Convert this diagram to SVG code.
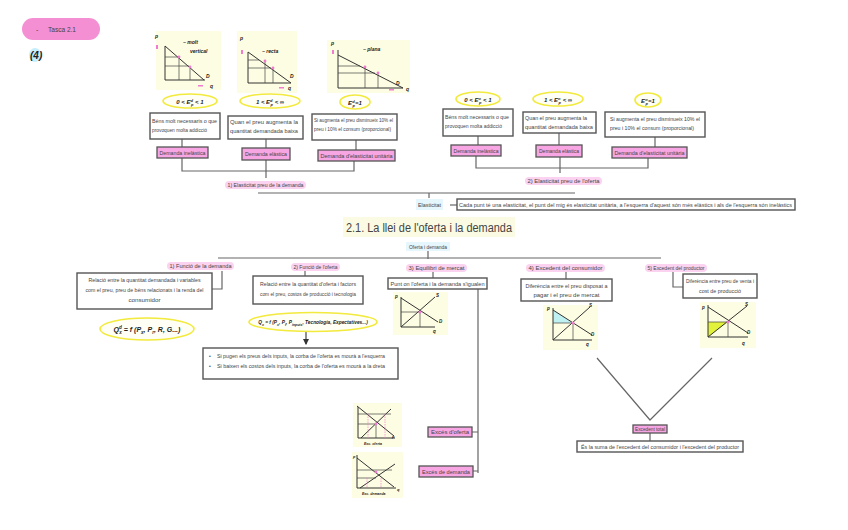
<svg xmlns="http://www.w3.org/2000/svg" width="848" height="530" viewBox="0 0 848 530">
<style>
text{font-family:"Liberation Sans",Arial,sans-serif;fill:#444;}
.t{font-size:5px;}
.box{fill:#fff;stroke:#555;stroke-width:1.4;}
.tag{fill:#f7a6e3;stroke:#555;stroke-width:1.3;}
.lbl{fill:#fbd2f0;}
.ln{fill:none;stroke:#666;stroke-width:1.2;}
.gbg{fill:#fdfde3;}
.ax{fill:none;stroke:#333;stroke-width:1;}
.gl{fill:none;stroke:#444;stroke-width:0.7;}
.el{fill:#fffff5;stroke:#f2ea3c;stroke-width:1.6;}
.hw{font-family:"Liberation Sans",Arial,sans-serif;font-style:italic;font-weight:bold;fill:#222;}
.pk{fill:#f27bd0;}
</style>
<defs>
<marker id="ar" markerWidth="6" markerHeight="6" refX="5" refY="3" orient="auto"><path d="M0,0L6,3L0,6z" fill="#333"/></marker>
</defs>

<g id="tasca">
<rect x="22" y="18" width="78" height="22" rx="11" fill="#f58fd3"/>
<text x="36" y="32" font-size="7">-</text>
<text x="48" y="32" font-size="7.5" textLength="28" lengthAdjust="spacingAndGlyphs">Tasca 2.1</text>
</g>
<g id="num">
<ellipse cx="35" cy="55" rx="6" ry="7" fill="#c7eefc"/>
<text x="30" y="59" font-size="10" class="hw">(4)</text>
</g>

<g id="connectors">
<path class="ln" d="M182,139V147 M266,139V148 M356,140V150"/>
<path class="ln" d="M182,158V171H354V161 M266,160V178"/>
<path class="ln" d="M478,136V145 M559,133V145 M655,137V147"/>
<path class="ln" d="M476,156V168H648V158 M560,157V173"/>
<path class="ln" d="M258,193H575 M429,193V198"/>
<path class="ln" d="M450,205H457"/>
<path class="ln" d="M428,251V259 M218,258H661"/>
<path class="ln" d="M222,271V289H212"/>
<path class="ln" d="M305,271V276"/>
<path class="ln" d="M433,272V278"/>
<path class="ln" d="M566,272V279"/>
<path class="ln" d="M673,272V287H683"/>
<path class="ln" d="M478,289V473 M472,432H478 M473,471H478"/>
<path class="ln" d="M597,358L650,420L712,358"/>
<path class="ln" d="M650,433V441"/>
<path d="M306,327V344" stroke="#333" stroke-width="1.1" marker-end="url(#ar)"/>
</g>

<g id="graph-d1">
<rect class="gbg" x="156" y="31" width="65" height="59"/>
<text class="hw" x="155" y="38" font-size="5">p</text>
<rect class="pk" x="156" y="45" width="2" height="4"/>
<path class="ax" d="M165,46V80H205"/>
<path class="ax" d="M165,46L204,80"/>
<path class="gl" d="M165,57H178M165,66H189M179,57V80M190,66V80"/>
<circle class="pk" cx="179" cy="57" r="1.4"/><circle class="pk" cx="190" cy="67" r="1.4"/>
<text class="hw" x="183" y="44" font-size="5">~ molt</text>
<text class="hw" x="190" y="53" font-size="5">vertical</text>
<text class="hw" x="206" y="78" font-size="5">D</text>
<text class="hw" x="210" y="88" font-size="5">q</text>
<rect class="pk" x="198" y="85" width="5" height="1.5"/>
</g>
<g id="graph-d2">
<rect class="gbg" x="237" y="31" width="60" height="62"/>
<text class="hw" x="240" y="40" font-size="5">p</text>
<rect class="pk" x="241" y="50" width="2" height="4"/>
<path class="ax" d="M248,52V83H291"/>
<path class="ax" d="M248,52L291,83"/>
<path class="gl" d="M248,60H259M248,68H271M265,60V83M273,68V83"/>
<circle class="pk" cx="265" cy="61" r="1.4"/><circle class="pk" cx="273" cy="68" r="1.4"/>
<text class="hw" x="262" y="53" font-size="5">~ recta</text>
<text class="hw" x="290" y="78" font-size="5">D</text>
<text class="hw" x="288" y="90" font-size="5">q</text>
<rect class="pk" x="279" y="87" width="5" height="1.5"/>
</g>
<g id="graph-d3">
<rect class="gbg" x="327" y="40" width="83" height="53"/>
<text class="hw" x="331" y="45" font-size="5">p</text>
<rect class="pk" x="332" y="50" width="2" height="4"/>
<path class="ax" d="M338,50V88H403"/>
<path class="ax" d="M338,55L403,88"/>
<path class="gl" d="M338,66H360M338,73H375M365,66V88M378,73V88"/>
<circle class="pk" cx="365" cy="67" r="1.4"/><circle class="pk" cx="378" cy="73" r="1.4"/>
<text class="hw" x="363" y="51" font-size="5">~ plana</text>
<text class="hw" x="396" y="85" font-size="5">D</text>
<text class="hw" x="406" y="91" font-size="5">q</text>
<rect class="pk" x="389" y="89" width="5" height="1.5"/>
</g>

<g id="e-d1"><ellipse class="el" cx="190" cy="101" rx="27" ry="7"/><text class="hw" x="190" y="103.5" font-size="6" text-anchor="middle">0 &lt; E<tspan font-size="4" dy="-2">d</tspan><tspan font-size="4" dx="-2" dy="4">p</tspan><tspan dy="-2"> &lt; 1</tspan></text></g>
<g id="e-d2"><ellipse class="el" cx="270" cy="101" rx="30" ry="7"/><text class="hw" x="270" y="103.5" font-size="6" text-anchor="middle">1 &lt; E<tspan font-size="4" dy="-2">d</tspan><tspan font-size="4" dx="-2" dy="4">p</tspan><tspan dy="-2"> &lt; ∞</tspan></text></g>
<g id="e-d3"><ellipse class="el" cx="355" cy="102" rx="15" ry="7"/><text class="hw" x="355" y="104.5" font-size="6" text-anchor="middle">E<tspan font-size="4" dy="-2">d</tspan><tspan font-size="4" dx="-2" dy="4">p</tspan><tspan dy="-2">=1</tspan></text></g>

<g id="box-d1"><rect class="box" x="150" y="113" width="70" height="26"/>
<text class="t" x="152" y="123" textLength="65" lengthAdjust="spacingAndGlyphs">Béns molt necessaris o que</text>
<text class="t" x="152" y="132" textLength="55" lengthAdjust="spacingAndGlyphs">provoquen molta addicció</text></g>
<g id="box-d2"><rect class="box" x="228" y="116" width="75" height="23"/>
<text class="t" x="230" y="124" textLength="68" lengthAdjust="spacingAndGlyphs">Quan el preu augmenta la</text>
<text class="t" x="230" y="133" textLength="68" lengthAdjust="spacingAndGlyphs">quantitat demandada baixa</text></g>
<g id="box-d3"><rect class="box" x="312" y="114" width="85" height="26"/>
<text class="t" x="314" y="122" textLength="79" lengthAdjust="spacingAndGlyphs">Si augmenta el preu disminueix 10% el</text>
<text class="t" x="314" y="131" textLength="77" lengthAdjust="spacingAndGlyphs">preu i 10% el consum (proporcional)</text></g>

<g id="tag-d1"><rect class="tag" x="157" y="147" width="51" height="11"/><text class="t" x="182.5" y="154.5" text-anchor="middle" textLength="46" lengthAdjust="spacingAndGlyphs">Demanda inelàstica</text></g>
<g id="tag-d2"><rect class="tag" x="242" y="148" width="48" height="12"/><text class="t" x="266" y="156" text-anchor="middle" textLength="42" lengthAdjust="spacingAndGlyphs">Demanda elàstica</text></g>
<g id="tag-d3"><rect class="tag" x="318" y="150" width="77" height="11"/><text class="t" x="356.5" y="157.5" text-anchor="middle" textLength="72" lengthAdjust="spacingAndGlyphs">Demanda d'elasticitat unitària</text></g>

<g id="lbl-ed"><rect class="lbl" x="225" y="181" width="81" height="8" rx="4"/><text class="t" x="265.5" y="187" text-anchor="middle" textLength="76" lengthAdjust="spacingAndGlyphs" fill="#555">1) Elasticitat preu de la demanda</text></g>

<g id="e-o1"><ellipse class="el" cx="478" cy="99" rx="22" ry="7"/><text class="hw" x="478" y="101.5" font-size="6" text-anchor="middle">0 &lt; E<tspan font-size="4" dy="-2">o</tspan><tspan font-size="4" dx="-2" dy="4">p</tspan><tspan dy="-2"> &lt; 1</tspan></text></g>
<g id="e-o2"><ellipse class="el" cx="558" cy="99" rx="25" ry="7"/><text class="hw" x="558" y="101.5" font-size="6" text-anchor="middle">1 &lt; E<tspan font-size="4" dy="-2">o</tspan><tspan font-size="4" dx="-2" dy="4">p</tspan><tspan dy="-2"> &lt; ∞</tspan></text></g>
<g id="e-o3"><ellipse class="el" cx="648" cy="100" rx="13" ry="7"/><text class="hw" x="648" y="102.5" font-size="6" text-anchor="middle">E<tspan font-size="4" dy="-2">o</tspan><tspan font-size="4" dx="-2" dy="4">p</tspan><tspan dy="-2">=1</tspan></text></g>

<g id="box-o1"><rect class="box" x="443" y="109" width="70" height="27"/>
<text class="t" x="445" y="119" textLength="64" lengthAdjust="spacingAndGlyphs">Béns molt necessaris o que</text>
<text class="t" x="445" y="128" textLength="57" lengthAdjust="spacingAndGlyphs">provoquen molta addicció</text></g>
<g id="box-o2"><rect class="box" x="523" y="112" width="73" height="21"/>
<text class="t" x="525" y="120" textLength="62" lengthAdjust="spacingAndGlyphs">Quan el preu augmenta la</text>
<text class="t" x="525" y="129" textLength="68" lengthAdjust="spacingAndGlyphs">quantitat demandada baixa</text></g>
<g id="box-o3"><rect class="box" x="605" y="112" width="100" height="25"/>
<text class="t" x="610" y="121" textLength="90" lengthAdjust="spacingAndGlyphs">Si augmenta el preu disminueix 10% el</text>
<text class="t" x="610" y="130" textLength="84" lengthAdjust="spacingAndGlyphs">preu i 10% el consum (proporcional)</text></g>

<g id="tag-o1"><rect class="tag" x="451" y="145" width="50" height="11"/><text class="t" x="476" y="152.5" text-anchor="middle" textLength="45" lengthAdjust="spacingAndGlyphs">Demanda inelàstica</text></g>
<g id="tag-o2"><rect class="tag" x="536" y="145" width="46" height="12"/><text class="t" x="559" y="153" text-anchor="middle" textLength="40" lengthAdjust="spacingAndGlyphs">Demanda elàstica</text></g>
<g id="tag-o3"><rect class="tag" x="612" y="147" width="75" height="11"/><text class="t" x="649.5" y="154.5" text-anchor="middle" textLength="70" lengthAdjust="spacingAndGlyphs">Demanda d'elasticitat unitària</text></g>

<g id="lbl-eo"><rect class="lbl" x="525" y="177" width="77" height="8" rx="4"/><text class="t" x="563.5" y="183" text-anchor="middle" textLength="72" lengthAdjust="spacingAndGlyphs" fill="#555">2) Elasticitat preu de l'oferta</text></g>

<g id="elasticitat"><rect x="416" y="199" width="27" height="11" fill="#e6f6fd"/><text class="t" x="429.5" y="206.5" text-anchor="middle" textLength="23" lengthAdjust="spacingAndGlyphs">Elasticitat</text></g>
<g id="box-el"><rect class="box" x="457" y="199" width="338" height="11" stroke-width="1.2"/>
<text class="t" x="459" y="206.5" font-size="4.8" textLength="333" lengthAdjust="spacingAndGlyphs">Cada punt té una elasticitat, el punt del mig és elasticitat unitària, a l'esquerra d'aquest són més elàstics i als de l'esquerra són inelàstics</text></g>

<g id="title"><rect x="343" y="217" width="172" height="20" fill="#fbfbe4"/>
<text x="429" y="232" font-size="12" text-anchor="middle" textLength="166" lengthAdjust="spacingAndGlyphs" fill="#555">2.1. La llei de l'oferta i la demanda</text></g>
<g id="oferta-demanda"><rect x="406" y="242" width="44" height="9" fill="#e6f6fd"/><text class="t" x="428" y="248.5" text-anchor="middle" textLength="38" lengthAdjust="spacingAndGlyphs">Oferta i demanda</text></g>

<g id="lbl-1"><rect class="lbl" x="167" y="262" width="67" height="8" rx="4"/><text class="t" x="200.5" y="268" text-anchor="middle" textLength="62" lengthAdjust="spacingAndGlyphs">1) Funció de la demanda</text></g>
<g id="lbl-2"><rect class="lbl" x="291" y="263" width="49" height="8" rx="4"/><text class="t" x="315.5" y="269" text-anchor="middle" textLength="44" lengthAdjust="spacingAndGlyphs">2) Funció de l'oferta</text></g>
<g id="lbl-3"><rect class="lbl" x="406" y="264" width="61" height="8" rx="4"/><text class="t" x="436.5" y="270" text-anchor="middle" textLength="56" lengthAdjust="spacingAndGlyphs">3) Equilibri de mercat</text></g>
<g id="lbl-4"><rect class="lbl" x="526" y="264" width="79" height="8" rx="4"/><text class="t" x="565.5" y="270" text-anchor="middle" textLength="74" lengthAdjust="spacingAndGlyphs">4) Excedent del consumidor</text></g>
<g id="lbl-5"><rect class="lbl" x="645" y="264" width="62" height="8" rx="4"/><text class="t" x="676" y="270" text-anchor="middle" textLength="57" lengthAdjust="spacingAndGlyphs">5) Excedent del productor</text></g>

<g id="box-1"><rect class="box" x="77" y="273" width="135" height="36"/>
<text class="t" x="144.5" y="282" text-anchor="middle" textLength="112" lengthAdjust="spacingAndGlyphs">Relació entre la quantitat demandada i variables</text>
<text class="t" x="144.5" y="292" text-anchor="middle" textLength="118" lengthAdjust="spacingAndGlyphs">com el preu, preu de béns relacionats i la renda del</text>
<text class="t" x="144.5" y="302" text-anchor="middle" textLength="32" lengthAdjust="spacingAndGlyphs">consumidor</text></g>
<g id="formula-1"><ellipse class="el" cx="147" cy="329" rx="47" ry="11"/>
<text class="hw" x="147" y="331.5" font-size="7" text-anchor="middle">Q<tspan font-size="4.5" dy="-3">d</tspan><tspan font-size="4.5" dx="-2.5" dy="5">x</tspan><tspan dy="-2"> = f (P</tspan><tspan font-size="4.5" dy="2">x</tspan><tspan dy="-2">, P</tspan><tspan font-size="4.5" dy="2">r</tspan><tspan dy="-2">, R, G...)</tspan></text></g>

<g id="box-2"><rect class="box" x="253" y="276" width="110" height="28"/>
<text class="t" x="308" y="286" text-anchor="middle" textLength="96" lengthAdjust="spacingAndGlyphs">Relació entre la quantitat d'oferta i factors</text>
<text class="t" x="308" y="296" text-anchor="middle" textLength="96" lengthAdjust="spacingAndGlyphs">com el preu, costos de producció i tecnologia</text></g>
<g id="formula-2"><ellipse class="el" cx="313" cy="322" rx="64" ry="9.5"/>
<text class="hw" x="313" y="324" font-size="4.8" font-weight="normal" text-anchor="middle">Q<tspan font-size="3.5" dy="1.5">x</tspan><tspan dy="-1.5"> = f (P</tspan><tspan font-size="3.5" dy="1.5">x</tspan><tspan dy="-1.5">, P</tspan><tspan font-size="3.5" dy="1.5">f</tspan><tspan dy="-1.5">, P</tspan><tspan font-size="3.5" dy="1.5">inputs</tspan><tspan dy="-1.5">, Tecnologia, Expectatives...)</tspan></text></g>

<g id="box-2b"><rect class="box" x="203" y="348" width="195" height="31"/>
<text class="t" x="209" y="358">•</text><text class="t" x="217" y="358" textLength="168" lengthAdjust="spacingAndGlyphs">Si pugen els preus dels inputs, la corba de l'oferta es mourà a l'esquerra</text>
<text class="t" x="209" y="368">•</text><text class="t" x="217" y="368" textLength="168" lengthAdjust="spacingAndGlyphs">Si baixen els costos dels inputs, la corba de l'oferta es mourà a la dreta</text></g>

<g id="box-3"><rect class="box" x="388" y="278" width="99" height="11"/>
<text class="t" x="437.5" y="285.5" text-anchor="middle" textLength="94" lengthAdjust="spacingAndGlyphs">Punt on l'oferta i la demanda s'igualen</text></g>
<g id="graph-3"><rect class="gbg" x="393" y="292" width="55" height="43"/>
<path class="ax" d="M401,297V327H435"/>
<path class="ax" d="M401,298L438,322M401,327L435,297"/>
<path class="gl" d="M401,312H420V327"/>
<circle class="pk" cx="420" cy="312" r="1.5"/>
<text class="hw" x="395" y="298" font-size="4.5">p</text><text class="hw" x="433" y="333" font-size="4.5">q</text>
<text class="hw" x="436" y="297" font-size="4.5">S</text><text class="hw" x="439" y="323" font-size="4.5">D</text></g>

<g id="box-4"><rect class="box" x="521" y="279" width="91" height="22"/>
<text class="t" x="566.5" y="287.5" text-anchor="middle" textLength="82" lengthAdjust="spacingAndGlyphs">Diferència entre el preu disposat a</text>
<text class="t" x="566.5" y="297" text-anchor="middle" textLength="66" lengthAdjust="spacingAndGlyphs">pagar i el preu de mercat</text></g>
<g id="graph-4"><rect class="gbg" x="543" y="305" width="55" height="45"/>
<path d="M553,310L573,323H553z" fill="#bff0f2"/>
<path class="ax" d="M553,308V340H592"/>
<path class="ax" d="M553,310L592,335M553,340L590,307"/>
<path class="gl" d="M553,323H573V340"/>
<circle class="pk" cx="573" cy="323" r="1.5"/>
<text class="hw" x="547" y="310" font-size="4.5">p</text><text class="hw" x="586" y="346" font-size="4.5">q</text>
<text class="hw" x="589" y="307" font-size="4.5">S</text><text class="hw" x="591" y="336" font-size="4.5">D</text></g>

<g id="box-5"><rect class="box" x="683" y="274" width="74" height="24"/>
<text class="t" x="720" y="283" text-anchor="middle" textLength="68" lengthAdjust="spacingAndGlyphs">Diferència entre preu de venta i</text>
<text class="t" x="720" y="293" text-anchor="middle" textLength="42" lengthAdjust="spacingAndGlyphs">cost de producció</text></g>
<g id="graph-5"><rect class="gbg" x="700" y="302" width="56" height="46"/>
<path d="M708,322H728L708,337z" fill="#e2f23a"/>
<path class="ax" d="M708,305V337H748"/>
<path class="ax" d="M708,307L748,333M708,337L747,306"/>
<path class="gl" d="M708,322H728V337"/>
<circle class="pk" cx="728" cy="322" r="1.5"/>
<text class="hw" x="702" y="309" font-size="4.5">p</text><text class="hw" x="742" y="345" font-size="4.5">q</text>
<text class="hw" x="745" y="306" font-size="4.5">S</text><text class="hw" x="747" y="334" font-size="4.5">D</text></g>

<g id="graph-a"><rect class="gbg" x="353" y="403" width="49" height="44"/>
<path class="ax" d="M358,407V438H395"/>
<path class="ax" d="M357,406L394,436M361,438L391,409"/>
<path class="gl" d="M358,414H391M358,424H376M376,424V438"/>
<path d="M368,414V438M385,414V438" stroke="#f27bd0" stroke-width="0.7" stroke-dasharray="1.5,1" fill="none"/>
<circle class="pk" cx="376" cy="424" r="1.4"/>
<text class="hw" x="392" y="438" font-size="4">p</text>
<text class="hw" x="364" y="445" font-size="3.5">Exc. oferta</text></g>
<g id="graph-b"><rect class="gbg" x="352" y="452" width="51" height="46"/>
<path class="ax" d="M357,455V488H396"/>
<path class="ax" d="M357,458L394,487M360,488L395,464"/>
<path class="gl" d="M357,470H392M357,478H376"/>
<path d="M367,478V488M381,478V488" stroke="#f27bd0" stroke-width="0.7" stroke-dasharray="1.5,1" fill="none"/>
<circle class="pk" cx="376" cy="472" r="1.4"/>
<text class="hw" x="353" y="458" font-size="4">p</text><text class="hw" x="397" y="491" font-size="4">q</text>
<text class="hw" x="362" y="495" font-size="3.5">Exc. demanda</text></g>

<g id="tag-exo"><rect class="tag" x="428" y="427" width="44" height="10"/><text class="t" x="450" y="434" text-anchor="middle" textLength="38" lengthAdjust="spacingAndGlyphs">Excés d'oferta</text></g>
<g id="tag-exd"><rect class="tag" x="419" y="466" width="54" height="11"/><text class="t" x="446" y="473.5" text-anchor="middle" textLength="48" lengthAdjust="spacingAndGlyphs">Excés de demanda</text></g>

<g id="tag-total"><rect class="tag" x="633" y="425" width="34" height="8"/><text class="t" x="650" y="431" text-anchor="middle" textLength="30" lengthAdjust="spacingAndGlyphs">Excedent total</text></g>
<g id="box-total"><rect class="box" x="577" y="441" width="166" height="11" stroke-width="1.2"/>
<text class="t" x="660" y="448.5" text-anchor="middle" textLength="158" lengthAdjust="spacingAndGlyphs">És la suma de l'excedent del consumidor i l'excedent del productor</text></g>
</svg>
